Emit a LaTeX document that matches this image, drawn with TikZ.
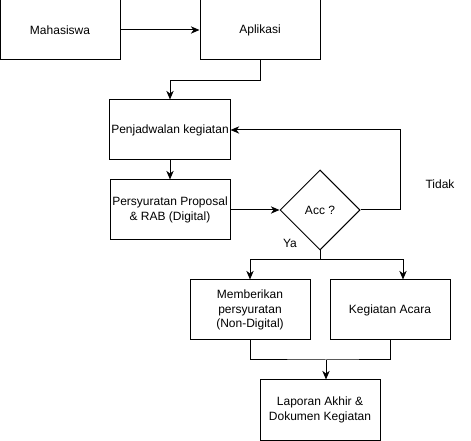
\documentclass[tikz,border=0pt]{standalone}
\usepackage{fontspec}
\setmainfont{Liberation Sans}
\usetikzlibrary{shapes.geometric,arrows.meta}
\begin{document}
\begin{tikzpicture}[x=0.75pt,y=-0.75pt,
  box/.style={draw,line width=0.75pt,minimum width=90pt,minimum height=45pt,align=center,font=\fontsize{9}{11}\selectfont,inner sep=1pt},
  dec/.style={draw,diamond,line width=0.75pt,minimum width=60pt,minimum height=60pt,aspect=1,inner sep=0pt,font=\fontsize{9}{11}\selectfont},
  lbl/.style={font=\fontsize{9}{11}\selectfont},
  conn/.style={line width=0.75pt,-{Stealth[length=6.5pt,width=5.5pt,inset=2pt]}}]
\useasboundingbox (0,0) rectangle (471,441);
\node[box] (mah) at (60,30) {Mahasiswa};
\node[box] (apl) at (260,30) {Aplikasi};
\node[box] (pen) at (170,130) {Penjadwalan kegiatan};
\node[box] (per) at (170,210) {Persyuratan Proposal\\\& RAB (Digital)};
\node[dec] (acc) at (320,210) {Acc ?};
\node[box] (mem) at (250,310) {Memberikan\\persyuratan\\(Non-Digital)};
\node[box] (keg) at (390,310) {Kegiatan Acara};
\node[box] (lap) at (320,410) {Laporan Akhir \&\\Dokumen Kegiatan};
\coordinate (split) at (320,260);
\coordinate (join) at (326,360);
\node[lbl] (tidak) at (440,184) {Tidak};
\node[lbl] (ya) at (290,243) {Ya};
\draw[conn] (mah) -- (apl);
\draw[conn] (apl.south) -- ++(0,20) -| (pen.north);
\draw[conn] (pen) -- (per);
\draw[conn] (per) -- (acc);
\draw[conn] (acc.east) -- ++(40,0) |- (pen.east);
\draw[line width=0.75pt] (acc.south) -- (split);
\draw[conn] (split) -| (mem.north);
\draw[conn] (split) -| ([xshift=9.75pt]keg.north);
\draw[line width=0.75pt] (mem.south) |- (join) -| (keg.south);
\draw[conn] (join) -- (join |- lap.north);
\end{tikzpicture}
\end{document}
